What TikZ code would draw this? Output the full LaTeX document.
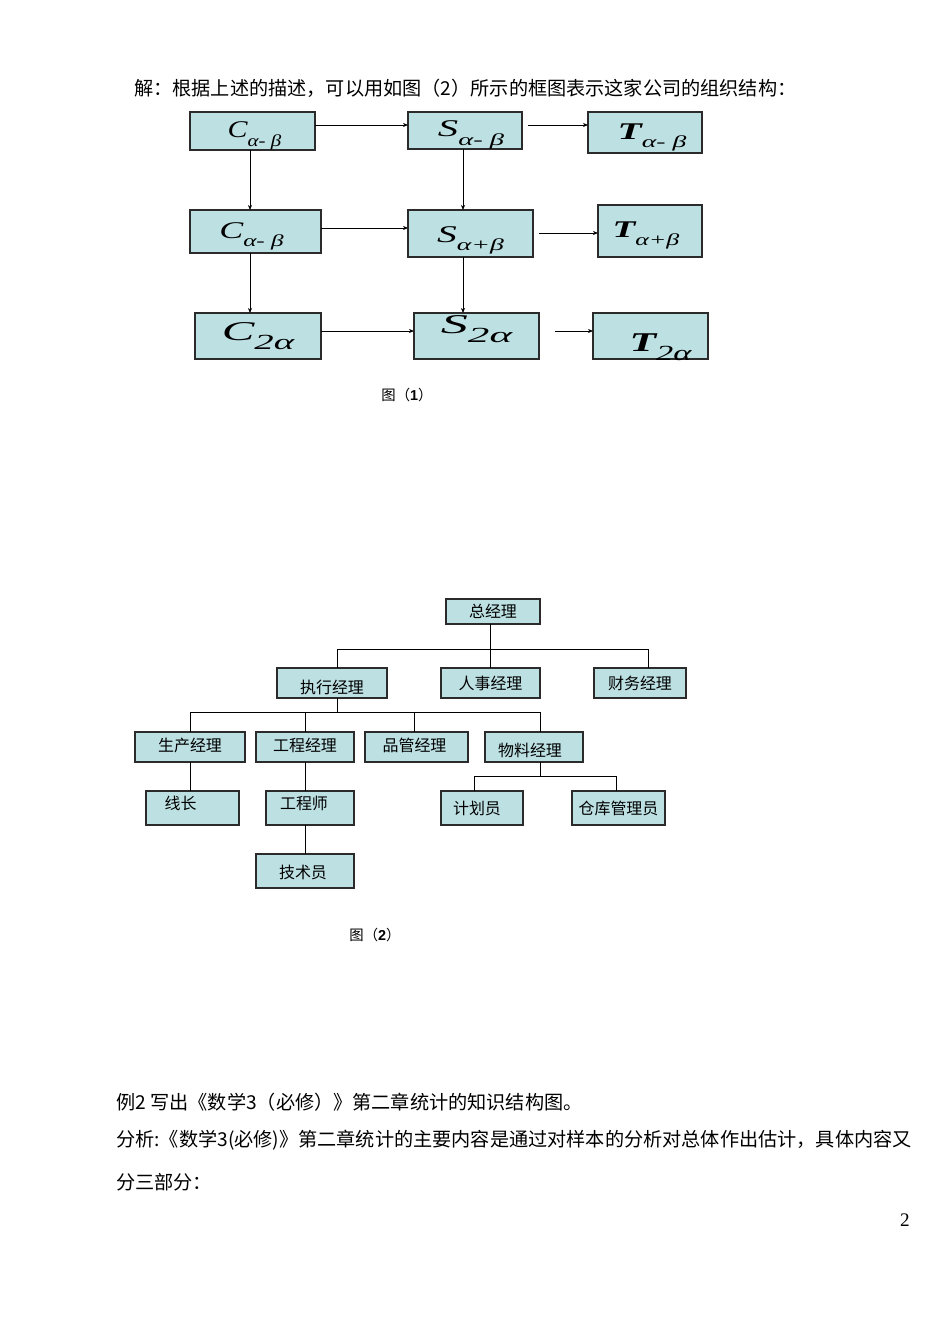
\documentclass[tikz,border=0pt]{standalone}
\usepackage{graphicx}
\usepackage{fontspec}
\setmainfont{Liberation Serif}
\newfontfamily\cjk{Noto Sans CJK SC}
\newfontfamily\arl{Liberation Sans}
\usetikzlibrary{calc}
\usetikzlibrary{arrows.meta}
\definecolor{cellfill}{HTML}{BDE0E3}
\definecolor{cellline}{HTML}{2B2B2B}
\tikzset{
	cell/.style={draw=cellline, fill=cellfill, line width=0.8pt, inner sep=0pt, outer sep=0pt},
	tx/.style={},
	lnk/.style={draw=black, line width=0.6pt},
	arr/.style={lnk, -{Stealth[length=3.2pt,width=2.6pt]}},
	txt/.style={inner sep=0pt, anchor=west, font={\cjk\fontsize{12pt}{14pt}\selectfont}},
	figcap/.style={inner sep=0pt, font={\fontsize{9pt}{11pt}\selectfont}}
}
\newcommand{\blk}[7][0,0] % [text shift in px], name, left, top, right, bottom, text
{
	% block
	\node[cell, minimum width={(#5-#3)*0.6263pt}, minimum height={(#6-#4)*0.6263pt}] (#2) at ({(#3+#5)/2},{(#4+#6)/2}) {};
	% its text
	\node[inner sep=0pt, tx] (#2-t) at ($(#2.center)+(#1)$) {#7};
}
\newcommand{\sym}[5] % letter, subscript, letter size, subscript size, stretch
{\scalebox{#5}[1]{\fontsize{#3}{#3}\selectfont\itshape #1\raisebox{-0.36em}{\fontsize{#4}{#4}\selectfont #2}}}

\begin{document}
\begin{tikzpicture}[x=0.6263pt, y=-0.6263pt]
	% page: 950 x 1342 px, y downwards
	\useasboundingbox (0,0) rectangle (950,1342);
	\node[txt] (head) at (134,88) {解：根据上述的描述，可以用如图（2）所示的框图表示这家公司的组织结构：};

	% figure 1 (text shift = baseline below the middle)
	\begin{scope}[tx/.style={anchor=base}]
	\blk[2,6.5]{c1}{190}{112}{315}{150}{\sym{C}{α- β}{15}{10.5}{1.25}}
	\blk[6,6.5]{s1}{408}{112}{522}{149}{\sym{S}{α- β}{15}{10.5}{1.7}}
	\blk[7,6.5]{t1}{588}{112}{702}{153}{\sym{{\bfseries T}}{α- β}{15}{10.5}{1.65}}
	\blk[-4,6.5]{c2}{190}{210}{321}{253}{\sym{C}{α- β}{15}{10.5}{1.5}}
	\blk[0,8.5]{s2}{408}{210}{533}{257}{\sym{S}{α+β}{15}{10.5}{1.65}}
	\blk[-4,6]{t2}{598}{205}{702}{257}{\sym{{\bfseries T}}{α+β}{15}{10.5}{1.55}}
	\blk[0,4]{c3}{195}{313}{321}{359}{\sym{C}{2α}{17}{13.5}{1.8}}
	\blk[0,-3]{s3}{414}{313}{539}{359}{\sym{S}{2α}{17}{13.5}{2}}
	\blk[10,15]{t3}{593}{313}{708}{359}{\sym{{\bfseries T}}{2α}{17}{13.5}{1.6}}
	\end{scope}

	\coordinate (h1) at (0,125);
	\coordinate (h2) at (0,228);
	\coordinate (h3) at (0,331);
	\coordinate (r1) at (528,125);
	\coordinate (r2) at (539,233);
	\coordinate (r3) at (555,331);
	\coordinate (k1) at (250,0);
	\coordinate (k2) at (463,0);
	\draw[arr] (c1.east |- h1) -- (s1.west |- h1);
	\draw[arr] (r1) -- (t1.west |- r1);
	\draw[arr] (c2.east |- h2) -- (s2.west |- h2);
	\draw[arr] (r2) -- (t2.west |- r2);
	\draw[arr] (c3.east |- h3) -- (s3.west |- h3);
	\draw[arr] (r3) -- (t3.west |- r3);
	\draw[arr] (c1.south -| k1) -- (c2.north -| k1);
	\draw[arr] (c2.south -| k1) -- (c3.north -| k1);
	\draw[arr] (s1.south -| k2) -- (s2.north -| k2);
	\draw[arr] (s2.south -| k2) -- (s3.north -| k2);

	\node[figcap] (cap1) at (407,395) {{\cjk 图（}{\arl\bfseries 1}{\cjk ）}};

	% figure 2
	\begin{scope}[every node/.append style={font={\cjk\fontsize{10pt}{12pt}\selectfont}}]
	\blk{zjl}{446}{599}{540}{624}{总经理}
	\blk[0,4]{zxjl}{277}{668}{387}{698}{执行经理}
	\blk{rsjl}{441}{668}{540}{698}{人事经理}
	\blk{cwjl}{594}{668}{686}{698}{财务经理}
	\blk[0,-2]{scjl}{135}{732}{245}{762}{生产经理}
	\blk[0,-2]{gcjl}{256}{732}{354}{762}{工程经理}
	\blk[-2,-2]{pgjl}{365}{732}{468}{762}{品管经理}
	\blk[-4,3]{wljl}{485}{732}{583}{762}{物料经理}
	\blk[-12,-5]{xz}{146}{791}{239}{825}{线长}
	\blk[-6,-5]{gcs}{266}{791}{354}{825}{工程师}
	\blk[-2,1]{jsy}{256}{854}{354}{888}{技术员}
	\blk[-5,0]{jhy}{441}{791}{523}{825}{计划员}
	\blk{ckgly}{572}{791}{665}{825}{仓库管理员}
	\end{scope}

	\coordinate (b1l) at (337,649);
	\coordinate (b1m) at (490,649);
	\coordinate (b1r) at (648,649);
	\coordinate (b2l) at (190,712);
	\coordinate (b2m) at (337,712);
	\coordinate (b2p) at (414,712);
	\coordinate (b2r) at (540,712);
	\coordinate (b3l) at (474,776);
	\coordinate (b3r) at (616,776);
	\draw[lnk] (zjl.south -| b1m) -- (rsjl.north -| b1m);
	\draw[lnk] (zxjl.north -| b1l) -- (b1l) -- (b1r) -- (cwjl.north -| b1r);
	\draw[lnk] (zxjl.south -| b2m) -- (b2m);
	\draw[lnk] (scjl.north -| b2l) -- (b2l) -- (b2r) -- (wljl.north -| b2r);
	\draw[lnk] (gcjl.north) -- (gcjl.north |- b2l);
	\draw[lnk] (pgjl.north -| b2p) -- (b2p);
	\draw[lnk] (scjl.south -| b2l) -- (xz.north -| b2l);
	\draw[lnk] (gcjl.south) -- (gcs.north -| gcjl.south);
	\draw[lnk] (gcs.south -| gcjl.south) -- (jsy.north -| gcjl.south);
	\draw[lnk] (wljl.south -| b2r) -- (b3l -| b2r);
	\draw[lnk] (jhy.north -| b3l) -- (b3l) -- (b3r) -- (ckgly.north -| b3r);

	\node[figcap] (cap2) at (375,935) {{\cjk 图（}{\arl\bfseries 2}{\cjk ）}};

	% text below
	\node[txt] (ex2) at (116,1102) {例2 写出《数学3（必修）》第二章统计的知识结构图。};
	\node[txt] (ana) at (116,1140) {分析:《数学3(必修)》第二章统计的主要内容是通过对样本的分析对总体作出估计，具体内容又};
	\node[txt] (ana2) at (116,1182) {分三部分：};
	\node[inner sep=0pt, font={\fontsize{12pt}{14pt}\selectfont}] (pg) at (905,1220) {2};
\end{tikzpicture}
\end{document}
